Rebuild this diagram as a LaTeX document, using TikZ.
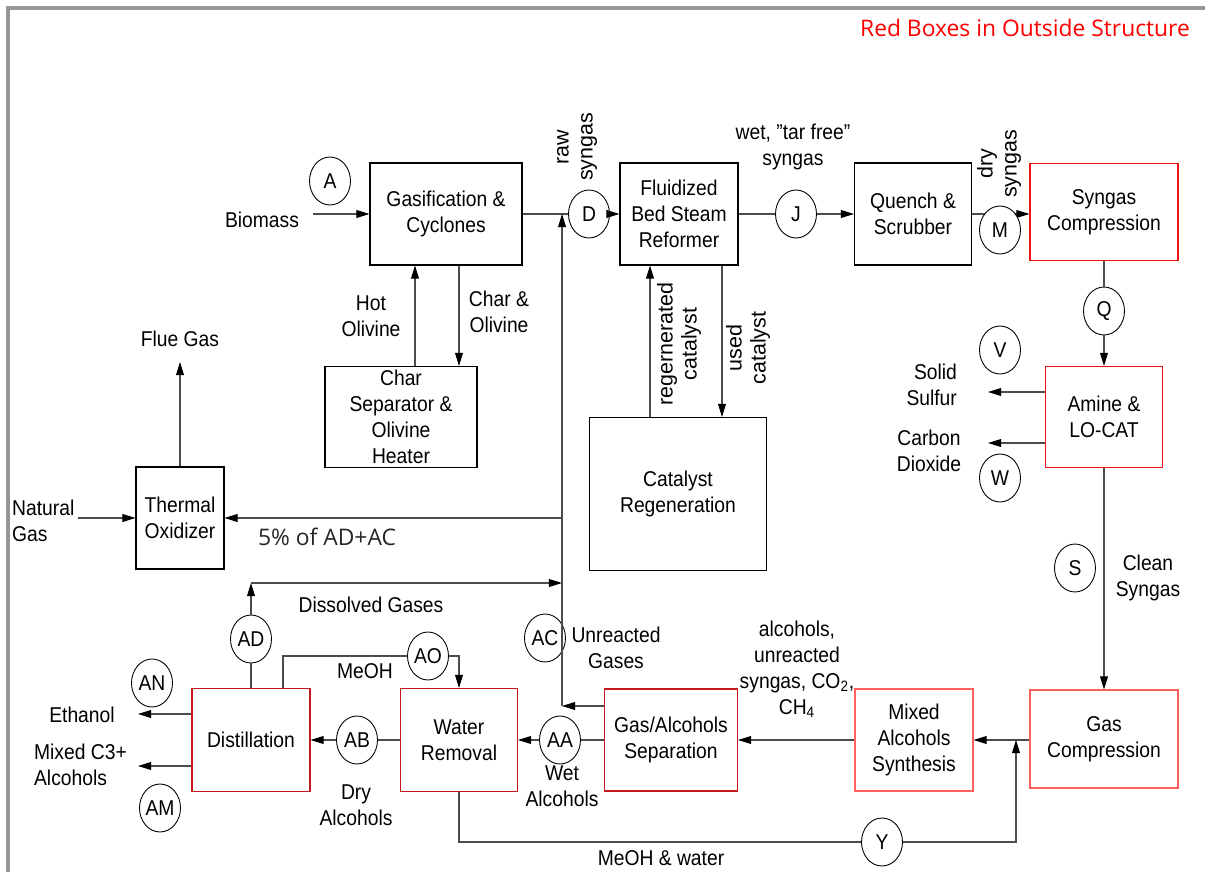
\documentclass[tikz,border=0pt]{standalone}
\usepackage{fontspec}
\setmainfont{Liberation Sans}[FakeStretch=0.9, Ligatures=ResetAll]
\newfontfamily\widefont{Liberation Sans}
\newfontfamily\notefont{Open Sans}
\usetikzlibrary{arrows.meta,positioning,shapes.geometric,calc}
\definecolor{framegray}{RGB}{150,150,150}
\definecolor{boxred}{RGB}{240,20,20}
\definecolor{boxpink}{RGB}{255,95,95}
\definecolor{boxdark}{RGB}{195,25,30}

\begin{document}
\begin{tikzpicture}[
  x=0.02cm, y=-0.02cm,
  font=\fontsize{12.2}{14.8}\selectfont,
  unit/.style={draw=black, line width=0.6pt, align=center, inner sep=1pt, fill=white},
  redunit/.style={unit, draw=boxred},
  pinkunit/.style={unit, draw=boxpink},
  darkunit/.style={unit, draw=boxdark},
  tag/.style={draw=black, line width=0.5pt, ellipse, minimum width=0.82cm, minimum height=0.96cm, inner sep=0pt, fill=white},
  lbl/.style={align=center, inner sep=1pt},
  vlbl/.style={lbl, rotate=90, font=\widefont\fontsize{12.2}{13.7}\selectfont},
  note/.style={lbl, font=\notefont\fontsize{13}{15}\selectfont},
  flow/.style={draw=black!70, line width=0.6pt},
  arr/.style={flow, -{Triangle[length=7.5pt,width=4.5pt,color=black]}}
]
  \useasboundingbox (0,0) rectangle (1205,872);
  \draw[framegray, line width=2pt] (8,872) -- (8,8) -- (1205,8);
  \node[note, anchor=east, text=red] (title) at (1192,28) {Red Boxes in Outside Structure};

  \node[unit, minimum width=3.04cm, minimum height=2.04cm] (gasif) at (446,214) {Gasification \&\\Cyclones};
  \node[unit, minimum width=2.36cm, minimum height=2.04cm] (reformer) at (679,214) {Fluidized\\Bed Steam\\Reformer};
  \node[unit, minimum width=2.34cm, minimum height=2.04cm] (quench) at (913,214) {Quench \&\\Scrubber};
  \node[redunit, minimum width=2.96cm, minimum height=1.94cm] (syncomp) at (1104,212) {Syngas\\Compression};
  \node[unit, minimum width=3.04cm, minimum height=2.02cm] (charsep) at (401,417) {Char\\Separator \&\\Olivine\\Heater};
  \node[unit, minimum width=3.54cm, minimum height=3.06cm] (catregen) at (678,494) {Catalyst\\Regeneration};
  \node[unit, minimum width=1.76cm, minimum height=2.04cm] (thermox) at (180,518) {Thermal\\Oxidizer};
  \node[redunit, minimum width=2.34cm, minimum height=2.02cm] (amine) at (1104,417) {Amine \&\\LO-CAT};
  \node[pinkunit, minimum width=2.96cm, minimum height=1.96cm] (gascomp) at (1104,739) {Gas\\Compression};
  \node[pinkunit, minimum width=2.36cm, minimum height=2.04cm] (mas) at (914,740) {Mixed\\Alcohols\\Synthesis};
  \node[darkunit, minimum width=2.66cm, minimum height=2.04cm] (gassep) at (671,740) {Gas/Alcohols\\Separation};
  \node[darkunit, minimum width=2.34cm, minimum height=2.06cm] (waterrem) at (459,740) {Water\\Removal};
  \node[darkunit, minimum width=2.36cm, minimum height=2.06cm] (distill) at (251,740) {Distillation};

  \coordinate (jtop) at (562,214);
  \coordinate (jox) at (562,518);
  \coordinate (jdg) at (562,583);
  \coordinate (jbot) at (562,706);
  \coordinate (dgcorner) at (251,583);
  \coordinate (bmin) at (313,214);
  \coordinate (ngin) at (78,518);
  \coordinate (fluetip) at (180,362);
  \coordinate (sulout) at (988,392);
  \coordinate (co2out) at (988,443);
  \coordinate (ethout) at (138,714);
  \coordinate (c3out) at (138,766);
  \coordinate (ymerge) at (1016,740);

  \node[tag] (A) at (330,181) {A};
  \node[tag] (D) at (589,214) {D};
  \node[tag] (J) at (796,214) {J};
  \node[tag] (Q) at (1104,311) {Q};
  \node[tag] (V) at (1000,350) {V};
  \node[tag] (W) at (1000,478) {W};
  \node[tag] (S) at (1075,568) {S};
  \node[tag] (AD) at (251,639) {AD};
  \node[tag] (AO) at (428,656) {AO};
  \node[tag] (AN) at (152,683) {AN};
  \node[tag] (AB) at (357,740) {AB};
  \node[tag] (AA) at (560,740) {AA};
  \node[tag] (AM) at (160,808) {AM};
  \node[tag] (AC) at (545,638) {AC};
  \node[tag] (Y) at (882,842) {Y};

  \draw[arr] (bmin) -- (gasif.west);
  \draw[flow] (gasif.east) -- (D.west);
  \draw[arr] (D.east) -- (reformer.west);
  \draw[flow] (reformer.east) -- (J.west);
  \draw[arr] (J.east) -- (quench.west);
  \draw[arr] (quench.east) -- (syncomp.west |- quench.east);
  \draw[flow] (syncomp.south) -- (Q.north);
  \draw[arr] (Q.south) -- (amine.north);
  \draw[arr] (amine.west |- sulout) -- (sulout);
  \draw[arr] (amine.west |- co2out) -- (co2out);
  \draw[arr] (amine.south) -- (gascomp.north);
  \draw[arr] (gascomp.west |- mas.east) -- (mas.east);
  \draw[arr] (mas.west) -- (gassep.east);
  \draw[flow] (gassep.west) -- (AA.east);
  \draw[arr] (AA.west) -- (waterrem.east);
  \draw[flow] (waterrem.west) -- (AB.east);
  \draw[arr] (AB.west) -- (distill.east);
  \draw[arr] (distill.west |- ethout) -- (ethout);
  \draw[arr] (distill.west |- c3out) -- (c3out);
  \draw[flow] (distill.north) -- (AD.south);
  \draw[arr] (AD.north) -- (dgcorner);
  \draw[arr] (dgcorner) -- (jdg);
  \draw[flow] ([xshift=0.64cm]distill.north) |- (AO.west);
  \draw[arr] (AO.east) -| (waterrem.north);
  \draw[flow] (waterrem.south) |- (Y.west);
  \draw[arr] (Y.east) -| (ymerge);
  \draw[arr] (gassep.west |- jbot) -- (jbot);
  \draw[arr] (jbot) -- (jtop);
  \draw[arr] (jox) -- (thermox.east |- jox);
  \draw[arr] (ngin) -- (thermox.west);
  \draw[arr] (thermox.north) -- (fluetip);
  \draw[arr] ([xshift=0.28cm]charsep.north) -- ([xshift=0.28cm]charsep.north |- gasif.south);
  \draw[arr] ([xshift=0.26cm]gasif.south) -- ([xshift=0.26cm]gasif.south |- charsep.north);
  \draw[arr] ([xshift=-0.56cm]catregen.north) -- ([xshift=-0.56cm]catregen.north |- reformer.south);
  \draw[arr] ([xshift=0.86cm]reformer.south) -- ([xshift=0.86cm]reformer.south |- catregen.north);

  \node[tag] (M) at (1000,230) {M};

  \node[lbl] (biomass) at (262,220) {Biomass};
  \node[vlbl] (rawsyn) at (577,147) {raw\\syngas};
  \node[lbl] (wetsyn) at (793,147) {wet, "tar free"\\syngas};
  \node[vlbl] (drysyn) at (999,164) {dry\\syngas};
  \node[lbl] (hotol) at (371,316) {Hot\\Olivine};
  \node[lbl] (charol) at (499,312) {Char \&\\Olivine};
  \node[vlbl] (regencat) at (679,344) {regernerated\\catalyst};
  \node[vlbl] (usedcat) at (748,348) {used\\catalyst};
  \node[lbl] (fluegas) at (180,339) {Flue Gas};
  \node[lbl, anchor=west, align=left] (natgas) at (10,521) {Natural\\Gas};
  \node[note, text=black!85] (pct) at (327,537) {5\% of AD+AC};
  \node[lbl, anchor=east, align=right] (solsul) at (959,385) {Solid\\Sulfur};
  \node[lbl] (carbdiox) at (929,451) {Carbon\\Dioxide};
  \node[lbl] (cleansyn) at (1148,578) {Clean\\Syngas};
  \node[lbl] (dissgas) at (371,605) {Dissolved Gases};
  \node[lbl] (unreact) at (616,648) {Unreacted\\Gases};
  \node[lbl] (meoh) at (365,671) {MeOH};
  \node[lbl] (alcmix) at (797,669) {alcohols,\\unreacted\\syngas, CO\textsubscript{2},\\CH\textsubscript{4}};
  \node[lbl] (ethanol) at (82,715) {Ethanol};
  \node[lbl, anchor=west, align=left] (mixc3) at (32,765) {Mixed C3+\\Alcohols};
  \node[lbl] (dryalc) at (356,805) {Dry\\Alcohols};
  \node[lbl] (wetalc) at (562,786) {Wet\\Alcohols};
  \node[lbl] (meohwat) at (661,858) {MeOH \& water};
\end{tikzpicture}
\end{document}
